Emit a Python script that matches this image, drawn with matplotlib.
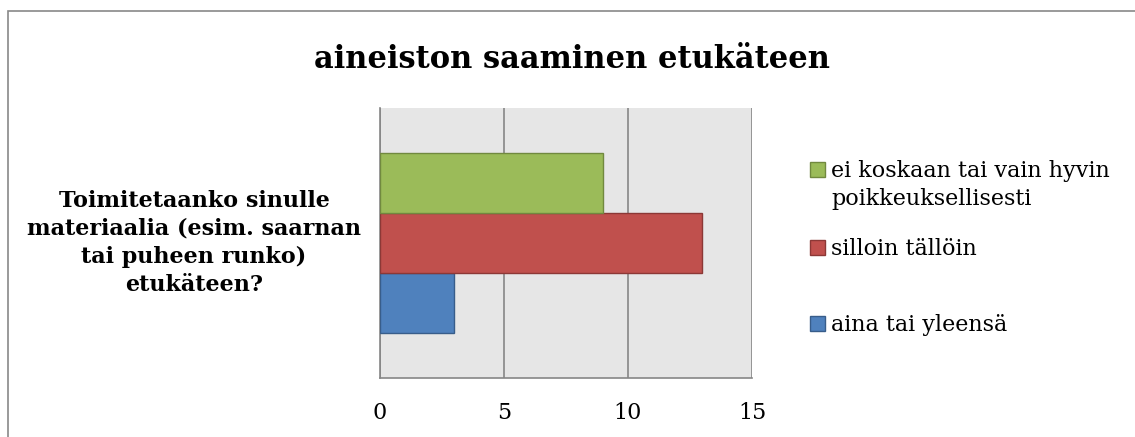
import matplotlib.pyplot as plt
from matplotlib.patches import Rectangle

title = "aineiston saaminen etukäteen"
question = "Toimitetaanko sinulle\nmateriaalia (esim. saarnan\ntai puheen runko)\netukäteen?"
series = ["aina tai yleensä", "silloin tällöin",
          "ei koskaan tai vain hyvin\npoikkeuksellisesti"]
values = [3, 13, 9]
colors = ["#4F81BD", "#C0504D", "#9BBB59"]
edges = ["#385D8A", "#8C3836", "#71893F"]
xticks = [0, 5, 10, 15]

W, H = 1135, 437
plt.rcParams['font.family'] = ['DejaVu Serif']


def fx(px):
    return px / W


def fy(py):
    # pixel from the top -> figure fraction
    return 1 - py / H


fig = plt.figure(figsize=(W / 100, H / 100), dpi=100)
fig.patches.append(Rectangle((fx(8), -0.1), 1.2, fy(11) + 0.1,
                             transform=fig.transFigure, fill=False,
                             edgecolor="#898989", linewidth=1.2))

ax = fig.add_axes([fx(380), fy(378), fx(372), 270 / H])
ax.set_facecolor("#E6E6E6")

h = 2 / 9
offsets = [-h, 0, h]
for v, off, c, e, lab in zip(values, offsets, colors, edges, series):
    ax.barh(off, v, height=h, color=c, edgecolor=e, linewidth=1, label=lab, zorder=3)

ax.set_xlim(0, 15)
ax.set_ylim(-0.5, 0.5)
ax.set_xticks(xticks)
ax.set_xticklabels([str(t) for t in xticks], fontsize=16)
ax.tick_params(axis='x', length=0, pad=17)
ax.set_yticks([])
ax.xaxis.grid(True, color="#868686", linewidth=1.2, zorder=1)
ax.spines["top"].set_visible(False)
ax.spines["right"].set_visible(False)
for s in ["left", "bottom"]:
    ax.spines[s].set_color("#868686")
    ax.spines[s].set_linewidth(1.2)

fig.text(fx(572), fy(68), title, ha="center", va="baseline",
         fontsize=22, fontweight="bold")
fig.text(fx(194), fy(291), question, ha="center", va="baseline",
         fontsize=16, fontweight="bold", linespacing=1.35)

# legend, top entry first like the chart
leg_y = [177, 255, 331]
line_px = 28
handles, labels = ax.get_legend_handles_labels()
for (hd, lab), yb in zip(list(zip(handles, labels))[::-1], leg_y):
    p = hd.patches[0]
    fig.patches.append(Rectangle((fx(810), fy(yb)), fx(15), 15 / H,
                                 transform=fig.transFigure,
                                 facecolor=p.get_facecolor(),
                                 edgecolor=p.get_edgecolor(), linewidth=1))
    n = lab.count("\n")
    fig.text(fx(831), fy(yb + n * line_px), lab, ha="left", va="baseline",
             fontsize=16, linespacing=1.35)

fig.savefig("out.png", dpi=100)
